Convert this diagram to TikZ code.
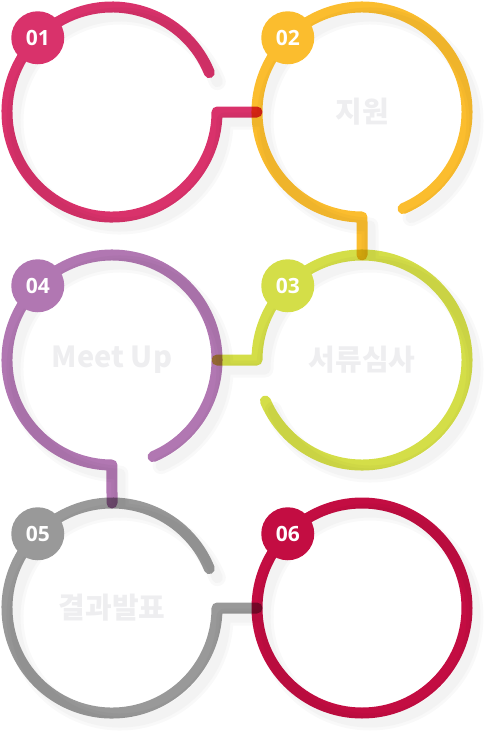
\documentclass[tikz,border=0pt]{standalone}
\usepackage{fontspec}
\newfontfamily\coreen{Noto Sans CJK KR}
\newfontfamily\chiffres{Open Sans}
\usetikzlibrary{positioning}
\definecolor{rose}{RGB}{217,50,107}
\definecolor{jaune}{RGB}{251,189,46}
\definecolor{vert}{RGB}{212,222,72}
\definecolor{mauve}{RGB}{177,119,178}
\definecolor{gris}{RGB}{153,153,153}
\definecolor{cramoisi}{RGB}{195,13,66}
\definecolor{etiq}{RGB}{238,238,240}
\definecolor{ombregris}{RGB}{243,243,243}
\definecolor{ombreclair}{RGB}{249,249,249}

\tikzset{
  cercle/.style={circle, minimum size=210pt, inner sep=0pt, outer sep=0pt},
  anneau/.style={line width=11pt, line cap=round, line join=round, blend mode=multiply},
  ombre/.style={line width=11pt, line cap=round, line join=round, draw=ombregris},
  halo/.style={line width=17pt, line cap=round, line join=round, draw=ombreclair},
  pastille/.style={circle, minimum size=53pt, inner sep=0pt, text=white,
    font=\chiffres\bfseries\fontsize{21}{21}\selectfont},
  etiquette/.style={text=etiq, font=\coreen\bfseries\fontsize{29}{29}\selectfont},
}

\begin{document}
\begin{tikzpicture}[x=1pt, y=1pt]
  \useasboundingbox (0,0) rectangle (484,-731);

  % Centres des anneaux
  \node[cercle] (r1) at (112,-112) {};
  \node[cercle] (r2) at (362,-112) {};
  \node[cercle] (r3) at (362,-360) {};
  \node[cercle] (r4) at (112,-360) {};
  \node[cercle] (r5) at (112,-608) {};
  \node[cercle] (r6) at (362,-608) {};

  % Ombres portees
  \foreach \c/\a/\b/\cible in {r1/22/360/r2.west, r2/293/630/r3.north, r3/203/540/r4.east, r4/293/630/r5.north, r5/22/360/r6.west}
    \draw[halo] ([shift={(8,-9)}]\c.\a) arc[start angle=\a, end angle=\b, radius=105] -- ([shift={(8,-9)}]\cible);
  \draw[halo] ([shift={(8,-9)}]r6.center) circle[radius=105];
  \foreach \c/\a/\b/\cible in {r1/22/360/r2.west, r2/293/630/r3.north, r3/203/540/r4.east, r4/293/630/r5.north, r5/22/360/r6.west}
    \draw[ombre] ([shift={(8,-9)}]\c.\a) arc[start angle=\a, end angle=\b, radius=105] -- ([shift={(8,-9)}]\cible);
  \draw[ombre] ([shift={(8,-9)}]r6.center) circle[radius=105];

  % Anneaux et liaisons
  \foreach \c/\couleur/\a/\b/\cible in {r1/rose/22/360/r2.west, r2/jaune/293/630/r3.north, r3/vert/203/540/r4.east, r4/mauve/293/630/r5.north, r5/gris/22/360/r6.west}
    \draw[anneau, \couleur] (\c.\a) arc[start angle=\a, end angle=\b, radius=105] -- (\cible);
  \draw[anneau, cramoisi] (r6.center) circle[radius=105];

  % Pastilles
  \foreach \i/\couleur in {1/rose, 2/jaune, 3/vert, 4/mauve, 5/gris, 6/cramoisi}
    \node[pastille, fill=\couleur] (p\i) at (r\i.135) {0\i};

  % Etiquettes
  \node[etiquette] (t2) at (r2) {지원};
  \node[etiquette] (t3) at (r3) {서류심사};
  \node[etiquette] (t4) at (r4) {Meet Up};
  \node[etiquette] (t5) at (r5) {결과발표};
\end{tikzpicture}
\end{document}
